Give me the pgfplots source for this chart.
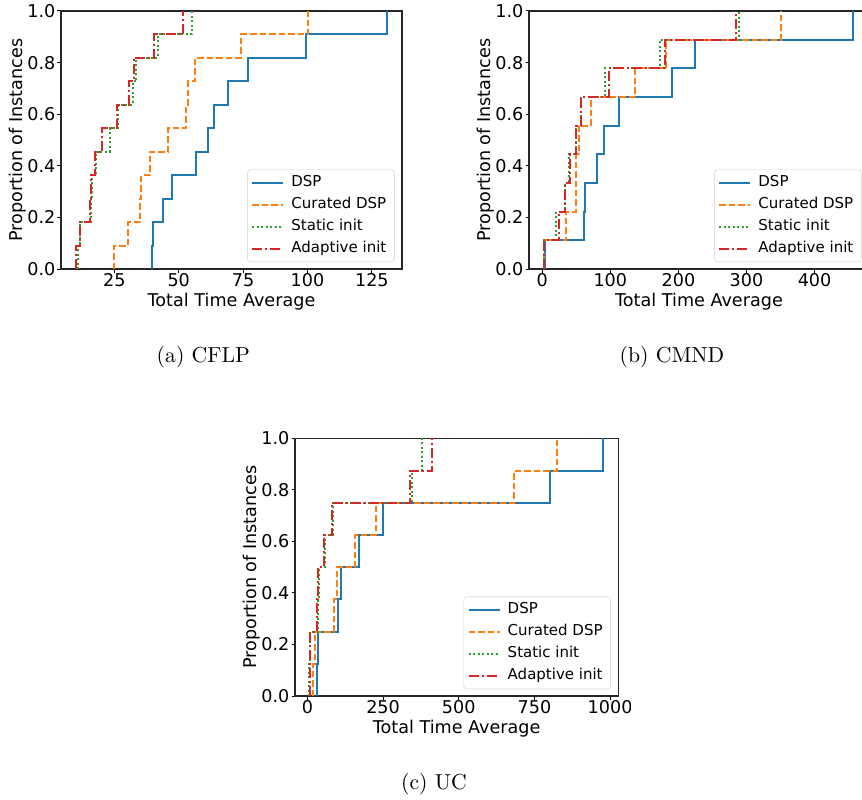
\documentclass[border=0pt]{standalone}
\usepackage{fontspec}
\usepackage{pgfplots}
\pgfplotsset{compat=1.18}
\newfontfamily\dejavu{DejaVu Sans}

\definecolor{mblue}{HTML}{1F77B4}
\definecolor{morange}{HTML}{FF7F0E}
\definecolor{mgreen}{HTML}{2CA02C}
\definecolor{mred}{HTML}{D62728}

\pgfplotsset{
  ecdf/.style={
    scale only axis, anchor=north west,
    ymin=0, ymax=1, ytick={0,0.2,0.4,0.6,0.8,1},
    yticklabel style={/pgf/number format/fixed, /pgf/number format/fixed zerofill, /pgf/number format/precision=1},
    xticklabel style={/pgf/number format/1000 sep={}},
    /pgf/number format/assume math mode=true,
    tick label style={font=\dejavu\fontsize{17.6}{20}\selectfont},
    label style={font=\dejavu\fontsize{17.6}{20}\selectfont},
    xlabel={Total Time Average}, ylabel={Proportion of Instances},
    tick pos=left, tick align=outside, major tick length=3.5pt,
    tick style={black, line width=1pt},
    axis line style={line width=1.1pt, black!85},
    xticklabel style={inner sep=1pt},
    yticklabel style={inner sep=2pt},
    xlabel style={inner sep=1pt, yshift=-4pt},
    ylabel style={inner sep=1pt},
    ylabel shift=-2pt,
    legend cell align=left,
    legend image code/.code={\draw[##1] (0pt,0pt) -- (31pt,0pt);},
    legend style={at={(1,0)}, anchor=south east, xshift=-7.5pt, yshift=7pt,
      font=\dejavu\fontsize{15}{18}\selectfont, draw=black!20, rounded corners=3pt,
      fill=white, fill opacity=0.8, text opacity=1, draw opacity=1,
      inner xsep=4pt, inner ysep=2pt, row sep=0pt,
      nodes={inner sep=4pt, text height=11pt, text depth=3pt},
      /tikz/every odd column/.append style={column sep=3pt}},
    every axis plot/.append style={const plot mark left, line width=2pt},
  },
  sdsp/.style={mblue, solid},
  scur/.style={morange, dash pattern=on 6.5pt off 3pt},
  sstat/.style={mgreen, dash pattern=on 2pt off 2.5pt},
  sadap/.style={mred, dash pattern=on 10pt off 3pt on 2pt off 3pt},
}
\tikzset{capt/.style={anchor=base, scale=2.17}}

\begin{document}
\begin{tikzpicture}

% (a) CFLP, 11 instances
\begin{axis}[ecdf, at={(61pt,-11pt)}, width=341pt, height=258pt,
  xmin=4.3, xmax=136.7, xtick={25,50,75,100,125}]
\addplot[sdsp] coordinates {(39.7,0) (39.7,0.0909) (40.2,0.1818) (44.0,0.2727) (47.5,0.3636) (56.9,0.4545) (61.4,0.5455) (63.8,0.6364) (69.2,0.7273) (77.0,0.8182) (99.6,0.9091) (130.7,1)};
\addplot[scur] coordinates {(24.9,0) (24.9,0.0909) (30.4,0.1818) (35.0,0.2727) (35.4,0.3636) (38.8,0.4545) (45.9,0.5455) (53.0,0.6364) (53.7,0.7273) (56.5,0.8182) (74.1,0.9091) (100.3,1)};
\addplot[sstat] coordinates {(10.96,0) (10.96,0.0909) (11.6,0.1818) (15.8,0.2727) (16.4,0.3636) (17.7,0.4545) (23.3,0.5455) (26.5,0.6364) (32.1,0.7273) (33.6,0.8182) (41.8,0.9091) (55.0,1)};
\addplot[sadap] coordinates {(10.3,0) (10.3,0.0909) (11.6,0.1818) (15.5,0.2727) (16.1,0.3636) (17.4,0.4545) (20.4,0.5455) (25.9,0.6364) (30.6,0.7273) (32.6,0.8182) (40.5,0.9091) (51.7,1)};
\legend{DSP, Curated DSP, Static init, Adaptive init}
\end{axis}

% (b) CMND, 9 instances
\begin{axis}[ecdf, at={(529pt,-11pt)}, width=340pt, height=258pt,
  xmin=-19.5, xmax=480, xtick={0,100,200,300,400}]
\addplot[sdsp] coordinates {(3.4,0) (3.4,0.1111) (61.0,0.2222) (62.5,0.3333) (80.3,0.4444) (90.1,0.5556) (113.1,0.6667) (190.4,0.7778) (224.7,0.8889) (457.2,1)};
\addplot[scur] coordinates {(3.0,0) (3.0,0.1111) (34.8,0.2222) (49.5,0.3333) (50.2,0.4444) (53.3,0.5556) (71.5,0.6667) (136.6,0.7778) (181.6,0.8889) (350.5,1)};
\addplot[sstat] coordinates {(2.5,0) (2.5,0.1111) (20.6,0.2222) (32.8,0.3333) (39.7,0.4444) (49.5,0.5556) (57.3,0.6667) (92.5,0.7778) (173.3,0.8889) (289.7,1)};
\addplot[sadap] coordinates {(2.9,0) (2.9,0.1111) (24.0,0.2222) (33.8,0.3333) (41.1,0.4444) (49.9,0.5556) (56.8,0.6667) (97.3,0.7778) (179.6,0.8889) (284.9,1)};
\legend{DSP, Curated DSP, Static init, Adaptive init}
\end{axis}

% (c) UC, 8 instances
\begin{scope}
\clip (200pt,-400pt) rectangle (630pt,-760pt);
\begin{axis}[ecdf, at={(295pt,-438.3pt)}, width=323.3pt, height=257.7pt,
  xmin=-41, xmax=1027, xtick={0,250,500,750,1000}]
\addplot[sdsp] coordinates {(31.0,0) (31.0,0.125) (36.4,0.25) (102.5,0.375) (110.2,0.5) (169.5,0.625) (250.0,0.75) (801.5,0.875) (977.6,1)};
\addplot[scur] coordinates {(18.0,0) (18.0,0.125) (25.4,0.25) (88.5,0.375) (97.0,0.5) (158.5,0.625) (226.5,0.75) (683.7,0.875) (825.0,1)};
\addplot[sstat] coordinates {(6.0,0) (6.0,0.125) (8.9,0.25) (36.4,0.375) (39.6,0.5) (58.5,0.625) (83.9,0.75) (344.7,0.875) (379.0,1)};
\addplot[sadap] coordinates {(8.9,0) (8.9,0.125) (10.0,0.25) (33.0,0.375) (36.4,0.5) (56.2,0.625) (80.5,0.75) (338.0,0.875) (411.0,1)};
\legend{DSP, Curated DSP, Static init, Adaptive init}
\end{axis}
\end{scope}

\node[capt] at (203.3pt,-362.5pt) {(a) CFLP};
\node[capt] at (672pt,-362.5pt) {(b) CMND};
\node[capt] at (434pt,-789pt) {(c) UC};

\pgfresetboundingbox
\path[use as bounding box] (0pt,0pt) rectangle (862pt,-800pt);
\end{tikzpicture}
\end{document}
